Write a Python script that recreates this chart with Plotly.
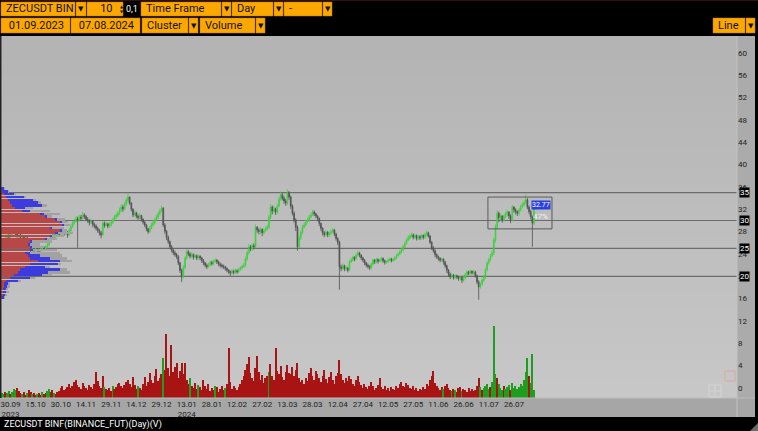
import base64
import struct
import zlib

import plotly.graph_objects as go
import pandas as pd

# daily candles, 25.09.2023 .. 07.08.2024
first_open = 25.8
close = [
    26.0, 26.2, 26.8, 27.3, 27.0, 27.6, 27.9, 28.0, 27.6, 27.2,
    27.4, 26.9, 27.1, 26.7, 26.9, 26.4, 25.6, 24.7, 24.9, 24.6,
    25.0, 24.8, 24.5, 24.7, 25.1, 24.9, 25.3, 25.6, 26.2, 26.9,
    27.4, 27.2, 27.6, 27.9, 27.5, 27.8, 28.0, 27.7, 27.9, 27.4,
    28.2, 28.9, 29.5, 29.8, 30.3, 30.0, 30.6, 30.4, 31.0, 30.7,
    30.2, 30.0, 29.6, 29.9, 29.3, 29.0, 28.6, 28.2, 27.8, 27.4,
    29.5, 29.1, 29.4, 29.0, 29.2, 29.7, 30.1, 30.6, 30.9, 31.3,
    31.8, 32.4, 32.1, 32.9, 33.6, 34.2, 33.1, 32.0, 31.0, 31.4,
    30.8, 30.5, 30.9, 30.2, 29.7, 29.2, 28.5, 28.0, 28.6, 29.2,
    29.6, 30.1, 30.6, 31.2, 31.7, 32.2, 29.2, 28.1, 27.0, 26.2,
    25.3, 24.7, 24.2, 23.9, 23.5, 22.4, 21.1, 19.9, 21.6, 23.2,
    24.4, 24.0, 23.6, 23.9, 23.4, 23.7, 23.3, 23.6, 23.3, 22.8,
    22.4, 22.0, 21.7, 22.1, 22.5, 22.3, 22.7, 22.9, 22.6, 22.2,
    22.0, 21.8, 21.7, 21.4, 21.1, 20.8, 20.6, 20.9, 20.7, 21.0,
    20.8, 21.2, 21.5, 21.7, 22.0, 23.1, 24.2, 25.3, 24.9, 25.5,
    25.3, 28.8, 28.3, 28.0, 28.4, 27.8, 28.2, 28.5, 28.8, 30.6,
    32.4, 31.7, 32.1, 31.5, 32.6, 33.8, 34.6, 34.0, 33.5, 33.1,
    34.9, 34.2, 32.6, 31.3, 30.1, 28.8, 25.3, 26.9, 27.9, 28.8,
    29.2, 29.7, 30.1, 30.6, 31.0, 31.5, 31.2, 30.8, 30.4, 29.5,
    28.6, 27.8, 27.5, 27.9, 27.4, 27.7, 28.0, 28.3, 27.6, 26.8,
    26.1, 21.7, 21.4, 21.9, 21.3, 21.5, 21.1, 22.6, 22.9, 23.4,
    23.1, 23.8, 24.2, 23.8, 23.3, 22.9, 22.4, 22.0, 21.8, 21.5,
    22.2, 22.9, 22.6, 23.0, 22.7, 22.9, 23.2, 22.8, 22.5, 22.6,
    22.9, 23.1, 22.8, 23.0, 23.3, 23.7, 24.0, 24.4, 24.7, 25.3,
    25.9, 26.5, 26.9, 27.2, 27.4, 27.0, 27.3, 26.8, 27.1, 26.9,
    27.3, 27.0, 27.5, 27.8, 27.2, 26.1, 25.1, 24.6, 23.9, 23.5,
    23.2, 22.9, 23.1, 22.6, 21.9, 21.1, 20.4, 19.9, 20.2, 19.8,
    20.1, 19.9, 19.6, 19.8, 19.3, 19.7, 20.3, 20.8, 20.5, 20.9,
    20.6, 20.8, 20.1, 19.0, 18.1, 18.6, 19.3, 19.9, 21.2, 22.4,
    23.0, 23.7, 24.2, 26.5, 28.8, 31.3, 30.5, 30.8, 30.1, 30.7,
    31.2, 31.5, 30.8, 30.1, 32.4, 31.9, 31.6, 31.3, 31.9, 32.5,
    32.8, 33.2, 33.7, 32.4, 31.6, 30.7, 29.5, 32.77,
]
high = [
    26.5, 26.7, 27.2, 27.8, 27.6, 27.9, 28.4, 28.6, 28.2, 27.8,
    27.8, 27.6, 27.5, 27.3, 27.2, 27.1, 26.5, 25.8, 25.3, 25.2,
    25.4, 25.3, 25.0, 25.1, 25.5, 25.4, 25.6, 26.0, 26.6, 27.3,
    27.8, 27.7, 28.0, 28.3, 28.1, 28.2, 28.5, 28.3, 28.3, 28.1,
    28.6, 29.3, 29.9, 30.3, 30.8, 30.7, 31.0, 31.0, 31.5, 31.3,
    31.0, 30.6, 30.2, 30.3, 30.0, 29.6, 29.3, 28.9, 28.5, 28.1,
    29.9, 29.8, 29.8, 29.6, 29.6, 30.1, 30.5, 31.0, 31.3, 31.7,
    32.3, 32.9, 32.8, 33.3, 34.0, 34.9, 34.3, 33.3, 32.2, 31.9,
    31.6, 31.1, 31.3, 31.0, 30.4, 29.9, 29.4, 28.7, 29.0, 29.6,
    30.0, 30.5, 31.0, 31.6, 32.1, 32.7, 32.4, 29.5, 28.3, 27.3,
    26.4, 25.6, 25.0, 24.6, 24.2, 23.8, 22.6, 21.4, 22.0, 23.6,
    24.9, 24.7, 24.3, 24.3, 24.1, 24.0, 23.9, 23.9, 23.8, 23.5,
    23.1, 22.6, 22.3, 22.4, 22.8, 22.8, 23.0, 23.2, 23.1, 22.8,
    22.5, 22.3, 22.1, 21.9, 21.6, 21.3, 21.1, 21.3, 21.2, 21.4,
    21.3, 21.6, 21.8, 22.1, 22.4, 23.5, 24.6, 25.8, 25.6, 25.9,
    25.9, 29.3, 29.0, 28.6, 28.8, 28.6, 28.5, 28.9, 29.2, 31.0,
    32.9, 32.7, 32.6, 32.3, 33.0, 34.3, 35.2, 35.0, 34.4, 33.9,
    35.6, 35.3, 34.5, 32.9, 31.6, 30.4, 29.1, 27.4, 28.3, 29.2,
    29.6, 30.1, 30.5, 31.0, 31.4, 31.9, 31.8, 31.4, 31.0, 30.5,
    29.6, 28.8, 28.1, 28.3, 28.1, 28.0, 28.4, 28.7, 28.5, 27.8,
    27.0, 26.4, 22.1, 22.3, 22.1, 21.9, 21.7, 22.9, 23.3, 23.7,
    23.6, 24.1, 24.6, 24.4, 23.9, 23.5, 23.1, 22.6, 22.3, 22.0,
    22.5, 23.2, 23.1, 23.3, 23.2, 23.2, 23.5, 23.4, 23.0, 22.9,
    23.2, 23.4, 23.3, 23.3, 23.6, 24.0, 24.3, 24.7, 25.0, 25.6,
    26.2, 26.8, 27.3, 27.6, 27.8, 27.7, 27.6, 27.5, 27.4, 27.4,
    27.6, 27.5, 27.8, 28.2, 28.0, 27.4, 26.3, 25.4, 24.8, 24.1,
    23.7, 23.4, 23.4, 23.2, 22.7, 22.1, 21.3, 20.7, 20.5, 20.4,
    20.4, 20.3, 20.1, 20.1, 20.0, 20.0, 20.6, 21.1, 21.0, 21.2,
    21.1, 21.1, 21.0, 20.3, 19.3, 18.9, 19.6, 20.2, 21.5, 22.7,
    23.3, 24.0, 24.6, 26.9, 29.3, 31.8, 31.6, 31.2, 31.0, 31.0,
    31.6, 31.9, 31.7, 31.1, 32.8, 32.6, 32.2, 31.8, 32.2, 32.8,
    33.2, 33.6, 34.6, 34.0, 32.7, 31.9, 30.9, 33.1,
]
low = [
    25.5, 25.8, 26.0, 26.6, 26.7, 26.8, 27.4, 27.6, 27.3, 26.9,
    26.9, 26.6, 26.6, 26.4, 26.5, 26.1, 25.2, 24.3, 24.4, 24.2,
    24.4, 24.4, 24.1, 24.2, 24.5, 24.6, 24.7, 25.1, 25.4, 26.0,
    26.8, 26.9, 26.9, 27.3, 27.2, 27.3, 27.5, 27.3, 27.4, 26.9,
    27.2, 28.0, 28.7, 29.2, 29.6, 25.1, 29.8, 29.9, 30.2, 30.3,
    29.9, 29.6, 29.1, 29.4, 28.8, 28.6, 28.2, 27.8, 27.3, 26.8,
    27.3, 28.7, 28.9, 28.6, 28.7, 28.9, 29.4, 29.9, 30.3, 30.6,
    31.0, 31.5, 31.6, 31.8, 32.6, 33.2, 32.8, 31.6, 30.6, 30.7,
    30.4, 30.1, 30.2, 29.8, 29.3, 28.8, 28.1, 27.6, 27.8, 28.4,
    28.9, 29.3, 29.9, 30.3, 30.9, 31.5, 28.8, 27.6, 26.5, 25.8,
    24.9, 24.3, 23.8, 23.5, 23.1, 22.0, 20.6, 19.0, 19.6, 21.3,
    23.0, 23.6, 23.2, 23.3, 23.0, 23.2, 22.9, 23.0, 22.9, 22.4,
    22.0, 21.6, 21.3, 21.5, 21.8, 21.9, 22.0, 22.4, 22.2, 21.8,
    21.6, 21.4, 21.3, 21.0, 20.7, 20.4, 20.1, 20.3, 20.3, 20.5,
    20.4, 20.6, 21.0, 21.2, 21.5, 21.7, 22.8, 23.9, 24.5, 24.6,
    24.8, 25.0, 27.8, 27.5, 27.6, 27.2, 27.5, 28.0, 28.2, 28.5,
    30.3, 31.1, 31.3, 31.0, 31.2, 32.4, 33.5, 33.6, 33.0, 32.6,
    32.8, 33.7, 32.1, 30.9, 29.6, 28.1, 24.6, 25.0, 26.5, 27.6,
    28.6, 29.0, 29.5, 29.8, 30.4, 30.8, 30.8, 30.4, 29.9, 29.0,
    28.1, 27.3, 27.0, 27.2, 27.0, 27.1, 27.4, 27.8, 27.2, 26.4,
    25.6, 17.6, 20.9, 21.1, 20.9, 21.0, 20.7, 21.0, 22.4, 22.7,
    22.7, 22.9, 23.5, 23.4, 22.9, 22.5, 22.0, 21.6, 21.4, 21.1,
    21.3, 21.9, 22.2, 22.3, 22.3, 22.5, 22.6, 22.4, 22.1, 22.2,
    22.4, 22.7, 22.5, 22.6, 22.8, 23.1, 23.5, 23.8, 24.1, 24.5,
    25.1, 25.7, 26.3, 26.6, 26.9, 26.6, 26.7, 26.4, 26.5, 26.5,
    26.6, 26.6, 26.7, 27.1, 26.9, 25.8, 24.7, 24.2, 23.4, 23.1,
    22.8, 22.5, 22.6, 22.1, 21.5, 20.6, 20.0, 19.5, 19.6, 19.4,
    19.5, 19.5, 19.2, 19.3, 18.8, 19.0, 19.5, 20.1, 20.2, 20.3,
    20.3, 20.3, 19.8, 18.6, 15.8, 17.8, 18.3, 19.0, 19.6, 20.9,
    22.1, 22.7, 23.4, 23.8, 26.1, 28.4, 29.7, 30.0, 29.6, 29.8,
    30.4, 30.8, 30.3, 29.5, 29.8, 31.4, 31.1, 30.8, 30.9, 31.6,
    32.2, 32.5, 32.9, 32.0, 31.1, 30.2, 25.3, 29.2,
]
volume = [
    5, 4, 6, 5, 7, 4, 6, 9, 8, 10,
    7, 5, 4, 6, 3, 5, 8, 6, 4, 5,
    3, 4, 5, 3, 6, 4, 5, 7, 9, 6,
    8, 5, 4, 6, 7, 10, 12, 8, 9, 11,
    14, 10, 12, 16, 18, 13, 11, 9, 15, 12,
    10, 8, 13, 11, 9, 14, 26, 17, 12, 10,
    22, 11, 9, 8, 10, 7, 12, 9, 11, 14,
    15, 12, 10, 13, 16, 18, 14, 11, 21, 13,
    9, 12, 10, 8, 14, 21, 12, 16, 25, 18,
    15, 22, 29, 17, 20, 24, 40, 28, 64, 30,
    22, 53, 26, 31, 35, 20, 27, 35, 24, 35,
    18, 14, 20, 12, 10, 15, 9, 13, 11, 8,
    18, 12, 9, 14, 7, 10, 8, 12, 11, 6,
    9, 12, 8, 10, 14, 50, 16, 9, 12, 10,
    8, 11, 14, 18, 22, 28, 34, 41, 25, 20,
    17, 30, 42, 26, 18, 23, 15, 20, 22, 26,
    34, 22, 18, 50, 27, 24, 32, 21, 18, 26,
    33, 25, 24, 31, 22, 28, 35, 20, 16, 18,
    14, 20, 17, 25, 30, 22, 18, 27, 24, 20,
    16, 22, 28, 19, 15, 21, 26, 18, 14, 22,
    25, 38, 24, 18, 15, 20, 17, 22, 19, 14,
    12, 18, 22, 16, 13, 10, 14, 11, 9, 12,
    16, 12, 8, 10, 13, 20, 11, 9, 12, 8,
    10, 7, 11, 9, 8, 12, 10, 14, 16, 12,
    11, 15, 13, 10, 9, 12, 8, 10, 7, 9,
    8, 11, 9, 14, 12, 18, 22, 27, 15, 12,
    10, 8, 11, 9, 12, 14, 10, 8, 7, 9,
    8, 6, 10, 11, 7, 9, 8, 6, 10, 7,
    9, 7, 8, 12, 20, 11, 8, 10, 12, 14,
    9, 11, 16, 72, 24, 20, 14, 10, 8, 12,
    9, 11, 13, 8, 15, 10, 12, 9, 11, 14,
    12, 18, 26, 40, 22, 15, 44, 8,
]
vol_side = "".join("""
ggrggrgggr rrgrrgrrgr rgrrgrrggr rgrrrrrrrr rrrrrrrrrr rrrrrrrrrr
rgrrrrgrrr rrrrrrrrrr rgrrrrrrrr rrrrrrgrrr rrrrrrrrrr rrgrrrrgrr
rrrrrrrgrr rrrgrrrrrr rrrrrrrrrr rrrrrrrrrg rrrrrrrrrr rrrrrrrrrr
rrrrrrrrrr rrrrrrrrrr rrrrrrrrrr rrrrrrrrrr rrrrrrrrrr rrrrrrrrrr
rrrrrrrrrr rrrrrrrrrr rrrgrrrrgr grrrgrrrrr rrrrrgrggg grgggrgggr
gggrgggggg ggggrggg
""".split())

# volume profile (left), price bins of 0.5
prof_price = [16.25 + 0.5 * i for i in range(40)]
prof_red = [2, 3, 3, 3, 4, 4, 6, 10, 14, 18, 20, 25, 30, 38, 30, 28, 25, 30, 30, 28,
            30, 45, 50, 55, 60, 50, 62, 60, 55, 45, 40, 22, 15, 12, 10, 8, 6, 4, 2, 1]
prof_blue = [2, 2, 3, 3, 3, 4, 12, 20, 28, 30, 40, 20, 28, 22, 20, 12, 5, 3, 2, 2,
             2, 2, 2, 3, 2, 2, 2, 2, 2, 2, 4, 8, 10, 30, 28, 25, 18, 10, 6, 3]
prof_gray = [1, 2, 3, 2, 3, 2, 3, 5, 10, 22, 7, 5, 3, 12, 17, 22, 30, 24, 12, 10,
             20, 10, 12, 15, 5, 12, 6, 6, 8, 5, 16, 20, 8, 5, 3, 3, 2, 2, 1, 1]

levels = [35, 30, 25, 20]
price_ticks = list(range(0, 61, 4))
date_ticks = ['2023-09-30', '2023-10-15', '2023-10-30', '2023-11-14', '2023-11-29',
              '2023-12-14', '2023-12-29', '2024-01-13', '2024-01-28', '2024-02-12',
              '2024-02-27', '2024-03-13', '2024-03-28', '2024-04-12', '2024-04-27',
              '2024-05-12', '2024-05-27', '2024-06-11', '2024-06-26', '2024-07-11',
              '2024-07-26']
date_labels = ['30.09<br>2023', '15.10', '30.10', '14.11', '29.11', '14.12', '29.12',
               '13.01<br>2024', '28.01', '12.02', '27.02', '13.03', '28.03', '12.04',
               '27.04', '12.05', '27.05', '11.06', '26.06', '11.07', '26.07']

dates = pd.date_range('2023-09-25', periods=len(close), freq='D')
opens = [first_open] + close[:-1]

W, H = 758, 431
L, R, T, B = 0, 21, 36, 33
PW, PH = W - L - R, H - T - B


def px(x):
    return (x - L) / PW


def py(y):
    return (H - B - y) / PH


def gradient_png(top, bottom, rows=64):
    # 1-pixel wide vertical grey gradient, stretched over the plot area
    raw = b''.join(b'\x00' + bytes([int(top + (bottom - top) * r / (rows - 1))]) for r in range(rows))

    def chunk(tag, data):
        c = struct.pack('>I', len(data)) + tag + data
        return c + struct.pack('>I', zlib.crc32(tag + data) & 0xffffffff)

    png = (b'\x89PNG\r\n\x1a\n' + chunk(b'IHDR', struct.pack('>IIBBBBB', 1, rows, 8, 0, 0, 0, 0))
           + chunk(b'IDAT', zlib.compress(raw)) + chunk(b'IEND', b''))
    return 'data:image/png;base64,' + base64.b64encode(png).decode()


fig = go.Figure()

fig.add_trace(go.Bar(
    x=dates, y=volume, xaxis='x', yaxis='y2',
    marker=dict(color=['#1e9e1e' if s == 'g' else '#a81414' for s in vol_side], line_width=0),
    showlegend=False, hoverinfo='skip'))

for vals, col in [(prof_red, '#b84848'), (prof_blue, '#3c3cdc'), (prof_gray, '#a2a2a2')]:
    fig.add_trace(go.Bar(
        x=vals, y=prof_price, orientation='h', xaxis='x3', yaxis='y',
        width=0.34, marker=dict(color=col, line_width=0),
        showlegend=False, hoverinfo='skip'))

fig.add_trace(go.Candlestick(
    x=dates, open=opens, high=high, low=low, close=close,
    increasing=dict(line=dict(color='#3cd23c', width=0.8), fillcolor='#3cd23c'),
    decreasing=dict(line=dict(color='#505050', width=0.8), fillcolor='#505050'),
    whiskerwidth=0, showlegend=False))

shapes = []
# axis strips
shapes.append(dict(type='rect', xref='paper', yref='paper', layer='below',
                   x0=1, x1=px(755), y0=py(417), y1=1, fillcolor='#ababab', line_width=0))
shapes.append(dict(type='rect', xref='paper', yref='paper', layer='below',
                   x0=0, x1=px(755), y0=py(417), y1=0, fillcolor='#a6a6a6', line_width=0))
shapes.append(dict(type='line', xref='paper', yref='paper', x0=1, x1=1, y0=py(417), y1=1,
                   line=dict(color='#c2c2c2', width=1)))
shapes.append(dict(type='line', xref='paper', yref='paper', x0=0, x1=px(755), y0=0, y1=0,
                   line=dict(color='#bcbcbc', width=1)))
shapes.append(dict(type='line', xref='paper', yref='paper', x0=0, x1=px(758), y0=py(0.5), y1=py(0.5),
                   line=dict(color='#3a0c0c', width=1)))
shapes.append(dict(type='line', xref='paper', yref='paper', x0=px(0.7), x1=px(0.7), y0=0, y1=1,
                   line=dict(color='#202020', width=1.5)))
# price levels
for lv in levels:
    shapes.append(dict(type='line', xref='paper', yref='y', x0=0, x1=1, y0=lv, y1=lv,
                       layer='below', line=dict(color='#6c6c6c', width=1.2)))
# selection box
shapes.append(dict(type='rect', xref='x', yref='y', x0='2024-07-10 12:00', x1='2024-08-17 16:00',
                   y0=28.5, y1=34.2, line=dict(color='#5a5a5a', width=1)))
# small chart icons bottom right
shapes.append(dict(type='rect', xref='paper', yref='paper', x0=px(725), x1=px(735), y0=py(381), y1=py(371),
                   line=dict(color='#d8a8a0', width=1)))
shapes.append(dict(type='rect', xref='paper', yref='paper', x0=px(709), x1=px(721), y0=py(397), y1=py(385),
                   line=dict(color='#d4d4d4', width=1)))
shapes.append(dict(type='line', xref='paper', yref='paper', x0=px(715), x1=px(715), y0=py(397), y1=py(385),
                   line=dict(color='#d4d4d4', width=1)))
shapes.append(dict(type='line', xref='paper', yref='paper', x0=px(709), x1=px(721), y0=py(391), y1=py(391),
                   line=dict(color='#d4d4d4', width=1)))
# resize grip
shapes.append(dict(type='path', xref='paper', yref='paper',
                   path=f'M {px(758)} {py(431)} L {px(758)} {py(423)} L {px(750)} {py(431)} Z',
                   fillcolor='#6a6a6a', line_width=0))

ORANGE = '#fca800'
annotations = []


def widget(x0, x1, y0, y1, text, size=11, align='left'):
    shapes.append(dict(type='rect', xref='paper', yref='paper', x0=px(x0), x1=px(x1),
                       y0=py(y1), y1=py(y0), fillcolor=ORANGE, line=dict(color='#c07800', width=0.5)))
    if align == 'left':
        annotations.append(dict(xref='paper', yref='paper', x=px(x0 + 3), y=py((y0 + y1) / 2),
                                xanchor='left', yanchor='middle', text=text, showarrow=False,
                                font=dict(family='Roboto', size=size, color='#111')))
    else:
        annotations.append(dict(xref='paper', yref='paper', x=px((x0 + x1) / 2), y=py((y0 + y1) / 2),
                                xanchor='center', yanchor='middle', text=text, showarrow=False,
                                font=dict(family='DejaVu Sans', size=size, color='#111')))


widget(1, 75, 2, 16, 'ZECUSDT BIN')
widget(76, 86, 2, 16, '▼', 7, 'c')
widget(87, 123, 2, 16, '   10')
annotations.append(dict(xref='paper', yref='paper', x=px(118), y=py(9), yanchor='middle', text='▲<br>▼',
                        showarrow=False, font=dict(family='DejaVu Sans', size=4, color='#111')))
annotations.append(dict(xref='paper', yref='paper', x=px(124), y=py(9), xanchor='left', yanchor='middle',
                        text='0,1', showarrow=False, font=dict(family='Roboto', size=9, color='white')))
widget(141, 221, 2, 16, 'Time Frame')
widget(222, 231, 2, 16, '▼', 7, 'c')
widget(232, 273, 2, 16, 'Day')
widget(274, 283, 2, 16, '▼', 7, 'c')
widget(284, 322, 2, 16, '-')
widget(323, 332, 2, 16, '▼', 7, 'c')
widget(1, 70, 18, 33, ' 01.09.2023')
widget(71, 140, 18, 33, ' 07.08.2024')
widget(142, 188, 18, 33, 'Cluster')
widget(189, 198, 18, 33, '▼', 7, 'c')
widget(200, 255, 18, 33, 'Volume')
widget(256, 265, 18, 33, '▼', 7, 'c')
widget(713, 745, 18, 33, 'Line')
widget(746, 755, 18, 33, '▼', 7, 'c')

for lv in levels:
    annotations.append(dict(xref='paper', yref='y', x=px(739), y=lv, xanchor='left', yanchor='middle',
                            text=f'{lv}', showarrow=False, bgcolor='black', borderpad=0,
                            font=dict(family='Roboto', size=8, color='white')))
annotations.append(dict(xref='x', yref='y', x='2024-08-11', y=32.77, text='32.77', showarrow=False,
                        bgcolor='#2a3ee6', borderpad=0, font=dict(family='Roboto', size=7, color='white')))
annotations.append(dict(xref='x', yref='y', x='2024-08-11', y=30.8, text='47%', showarrow=False,
                        font=dict(family='Roboto', size=8, color='#f2f2f2')))
annotations.append(dict(xref='paper', yref='paper', x=px(2), y=py(424), xanchor='left', yanchor='middle',
                        text='ZECUSDT BINF(BINANCE_FUT)(Day)(V)', showarrow=False,
                        font=dict(family='Roboto', size=9, color='white')))

fig.update_layout(
    width=W, height=H,
    margin=dict(l=L, r=R, t=T, b=B),
    paper_bgcolor='black',
    plot_bgcolor='rgba(0,0,0,0)',
    barmode='stack',
    bargap=0.25,
    shapes=shapes,
    annotations=annotations,
    images=[dict(source=gradient_png(180, 200), xref='paper', yref='paper', x=0, y=1,
                 sizex=1, sizey=1, sizing='stretch', xanchor='left', yanchor='top', layer='below')],
    xaxis=dict(type='date', range=['2023-09-23 18:00', '2024-12-05 22:00'],
               tickvals=date_ticks, ticktext=date_labels, ticks='',
               tickfont=dict(family='Roboto', size=8, color='#222'),
               showgrid=False, zeroline=False, rangeslider=dict(visible=False), fixedrange=True),
    xaxis3=dict(overlaying='x', anchor='y', range=[0, PW], visible=False, fixedrange=True),
    yaxis=dict(side='right', range=[-1.79, 63.04], tickvals=price_ticks, ticks='',
               tickfont=dict(family='Roboto', size=8, color='#222'),
               showgrid=False, zeroline=False, fixedrange=True),
    yaxis2=dict(overlaying='y', anchor='x', range=[0, PH], visible=False, fixedrange=True),
)

fig.write_html("out.html", config={'displayModeBar': False},
               post_script="document.body.style.margin='0';document.body.style.overflow='hidden';")
